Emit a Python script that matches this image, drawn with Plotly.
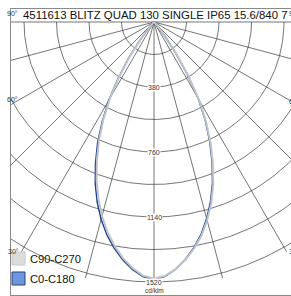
import numpy as np
import plotly.graph_objects as go

# ---------------- data ----------------
title_text = "4511613 BLITZ QUAD 130 SINGLE IP65 15.6/840 7"
unit_label = "cd/klm"

angles = [0, 2.5, 5, 7.5, 10, 12.5, 15, 17.5, 20, 22.5, 25, 27.5, 30,
          32.5, 35, 37.5, 40, 42.5, 45, 50, 55, 60, 70, 80, 90]
# C0 (right half) and C180 (left half)
c0 = [1505, 1488, 1450, 1400, 1340, 1272, 1190, 1100, 1000, 888, 772, 650, 520,
      360, 220, 110, 45, 15, 6, 3, 2, 1, 0, 0, 0]
c180 = [1505, 1490, 1452, 1402, 1342, 1274, 1194, 1104, 1004, 894, 780, 655, 530,
        390, 260, 140, 60, 20, 7, 3, 2, 1, 0, 0, 0]
# C90 (right half) and C270 (left half)
c90 = [1500, 1486, 1450, 1402, 1345, 1280, 1200, 1112, 1012, 900, 784, 660, 530,
       370, 228, 115, 48, 16, 6, 3, 2, 1, 0, 0, 0]
c270 = [1500, 1484, 1444, 1392, 1328, 1258, 1174, 1082, 982, 872, 760, 640, 515,
        378, 250, 132, 56, 18, 6, 3, 2, 1, 0, 0, 0]

ring_values = [190, 380, 570, 760, 950, 1140, 1330, 1520]
ring_labels = [380, 760, 1140, 1520]
spoke_angles = [-90, -75, -60, -45, -30, -15, 0, 15, 30, 45, 60, 75, 90]
angle_label_values = [30, 60, 90]
legend_names = ["C90-C270", "C0-C180"]

# ---------------- geometry ----------------
W, H = 291, 296
ML, MT, MR, MB = 11, 9, 0, 1
CX, CY = 154, 22          # pixel position of the pole
K = 1520 / 260.0          # cd per pixel
x_range = [(ML - CX) * K, (W - MR - CX) * K]
y_range = [-(H - MB - CY) * K, (CY - MT) * K]
SPOKE_END = 1550

def pol(r, a_deg):
    a = np.radians(a_deg)
    return r * np.sin(a), -r * np.cos(a)

def px_to_paper(px, py):
    return (px - ML) / (W - ML - MR), (H - MB - py) / (H - MT - MB)

fig = go.Figure()

grid_col = "#3a3a3a"
# rings
th = np.linspace(-90, 90, 361)
for rv in ring_values:
    x, y = pol(rv, th)
    fig.add_trace(go.Scatter(x=x, y=y, mode="lines", line=dict(color=grid_col, width=0.7),
                             hoverinfo="skip", showlegend=False))
# spokes
for a in spoke_angles:
    x, y = pol(np.array([0, SPOKE_END]), a)
    fig.add_trace(go.Scatter(x=x, y=y, mode="lines", line=dict(color=grid_col, width=0.7),
                             hoverinfo="skip", showlegend=False))

# curves
def curve(left, right):
    la = np.array(angles)
    xl, yl = pol(np.array(left)[::-1], -la[::-1])
    xr, yr = pol(np.array(right), la)
    return np.concatenate([xl, xr]), np.concatenate([yl, yr])

xb, yb = curve(c180, c0)
fig.add_trace(go.Scatter(x=xb, y=yb, mode="lines", name=legend_names[1],
                         line=dict(color="#1f3f8f", width=1.5), showlegend=False))
xg, yg = curve(c270, c90)
fig.add_trace(go.Scatter(x=xg, y=yg, mode="lines", name=legend_names[0],
                         line=dict(color="#bfc3cc", width=2.0), showlegend=False))

annotations = []
small = dict(family="Liberation Sans, Arial", size=7, color="#333333")
for rl in ring_labels:
    annotations.append(dict(x=0, y=-rl, xref="x", yref="y", text=str(rl), showarrow=False,
                            font=small, bgcolor="white", borderpad=0))
annotations.append(dict(x=0, y=-(290.5 - CY) * K, xref="x", yref="y", text=unit_label,
                        showarrow=False, font=dict(family="Liberation Sans, Arial", size=6.5,
                                                   color="#333333")))

# angle labels
for av in angle_label_values:
    for side in (-1, 1):
        ex, ey = pol(SPOKE_END, side * av)
        clamped = False
        if ex < x_range[0]:
            ey = ey * x_range[0] / ex; ex = x_range[0]; clamped = True
        if ex > x_range[1]:
            ey = ey * x_range[1] / ex; ex = x_range[1]; clamped = True
        if side < 0:
            xx = max(ex, x_range[0] + 9 * K)
            xa = "right"
        else:
            xx = min(ex, x_range[1] - 4 * K)
            xa = "left"
        if av == 90:
            ya, ysh = "bottom", 3
        elif clamped and side < 0:
            ya, ysh = "bottom", 0
        else:
            ya, ysh = "middle", 0
        annotations.append(dict(x=xx, y=ey, xref="x", yref="y", text=f"{av}°", showarrow=False,
                                xanchor=xa, yanchor=ya, yshift=ysh, font=small))

# title
tx, ty = px_to_paper(21, 15.5)
annotations.append(dict(x=tx, y=ty, xref="paper", yref="paper", text=title_text, showarrow=False,
                        xanchor="left", yanchor="middle",
                        font=dict(family="Liberation Sans, Arial", size=11.4, color="#111111")))

# legend
shapes = []
leg_fill = ["#d9d9d9", "#6f96dc"]
leg_line = ["#c4c4c4", "#24467f"]
leg_top = [252, 272]
for i, nm in enumerate(legend_names):
    x0, y1 = px_to_paper(12, leg_top[i])
    x1, y0 = px_to_paper(25, leg_top[i] + 13)
    shapes.append(dict(type="rect", xref="paper", yref="paper", x0=x0, x1=x1, y0=y0, y1=y1,
                       fillcolor=leg_fill[i], line=dict(color=leg_line[i], width=1),
                       opacity=0.9 if i == 0 else 1, layer="above"))
    lx, ly = px_to_paper(28, leg_top[i] + 6.5)
    annotations.append(dict(x=lx, y=ly, xref="paper", yref="paper", text=nm, showarrow=False,
                            xanchor="left", yanchor="middle",
                            font=dict(family="Liberation Sans, Arial", size=11.2, color="#111111")))

fig.update_layout(
    width=W, height=H,
    margin=dict(l=ML, r=MR, t=MT, b=MB, pad=0),
    paper_bgcolor="white", plot_bgcolor="white",
    xaxis=dict(range=x_range, showgrid=False, zeroline=False, showticklabels=False, ticks="",
               showline=True, mirror=True, linecolor="#8a8a8a", linewidth=1, fixedrange=True),
    yaxis=dict(range=y_range, showgrid=False, zeroline=False, showticklabels=False, ticks="",
               showline=True, mirror=False, linecolor="#8a8a8a", linewidth=1, fixedrange=True),
    annotations=annotations, shapes=shapes, showlegend=False,
)

fig.write_html("out.html", config={"displayModeBar": False},
               post_script="document.body.style.margin='0';")
